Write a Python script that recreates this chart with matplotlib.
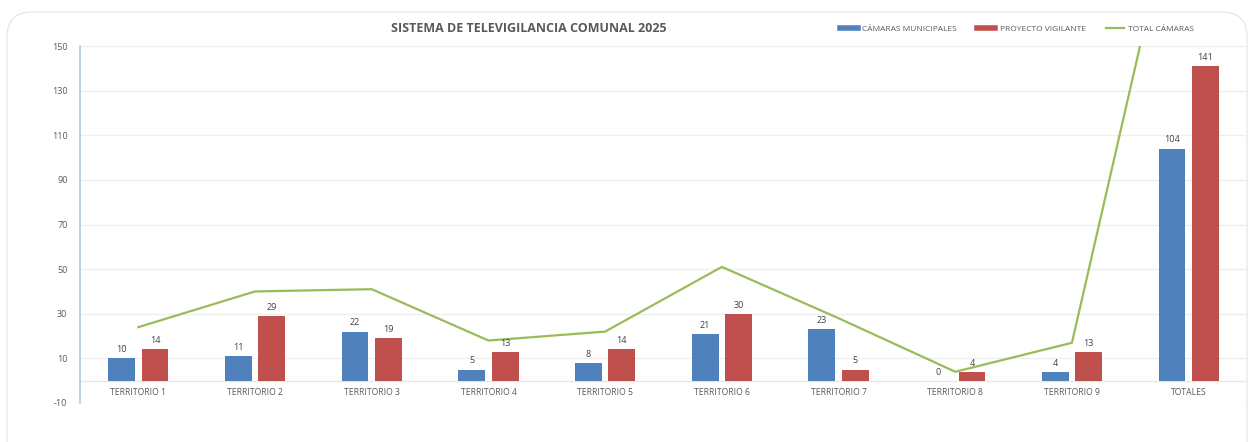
import matplotlib
matplotlib.use("Agg")
import matplotlib.pyplot as plt
from matplotlib.patches import FancyBboxPatch
from matplotlib.lines import Line2D
import numpy as np

categories = ["TERRITORIO 1", "TERRITORIO 2", "TERRITORIO 3", "TERRITORIO 4", "TERRITORIO 5",
              "TERRITORIO 6", "TERRITORIO 7", "TERRITORIO 8", "TERRITORIO 9", "TOTALES"]
camaras_municipales = [10, 11, 22, 5, 8, 21, 23, 0, 4, 104]
proyecto_vigilante = [14, 29, 19, 13, 14, 30, 5, 4, 13, 141]
total_camaras = [24, 40, 41, 18, 22, 51, 28, 4, 17, 245]
yticks = [-10, 10, 30, 50, 70, 90, 110, 130, 150]

plt.rcParams['font.family'] = ['Open Sans', 'DejaVu Sans']

BLUE = "#4F81BD"
RED = "#C0504D"
GREEN = "#9BBB59"
TXT = "#595959"

W, H = 1251, 442
fig = plt.figure(figsize=(W / 100, H / 100), dpi=100)

# chart frame (bottom edge extends below the figure)
frame = FancyBboxPatch((7 / W, -0.1), (W - 11) / W, (H - 12) / H + 0.1,
                       boxstyle="round,pad=0,rounding_size=0.02",
                       transform=fig.transFigure, facecolor="white",
                       edgecolor="#E3E3E3", linewidth=0.8, zorder=-5,
                       mutation_aspect=W / H)
fig.patches.append(frame)

ax = fig.add_axes([80 / W, 39 / H, (1247 - 80) / W, (403 - 46) / H])
ax.set_zorder(2)
ax.set_facecolor("none")
x = np.arange(len(categories))
bw = 0.23
off = 0.143
b1 = ax.bar(x - off, camaras_municipales, bw, color=BLUE, zorder=3)
b2 = ax.bar(x + off, proyecto_vigilante, bw, color=RED, zorder=3)
ax.plot(x, total_camaras, color=GREEN, lw=1.6, zorder=4)

for rects, vals in ((b1, camaras_municipales), (b2, proyecto_vigilante)):
    for r, v in zip(rects, vals):
        ax.annotate(str(v), (r.get_x() + r.get_width() / 2, v), xytext=(0, 3),
                    textcoords="offset points", ha="center", va="bottom",
                    fontsize=6.5, color="#404040", zorder=5)

ax.set_xlim(-0.5, len(categories) - 0.5)
ax.set_ylim(-10, 150)
ax.set_yticks(yticks)
ax.set_yticklabels([str(t) for t in yticks], fontsize=6.5, color=TXT)
ax.yaxis.grid(True, color="#EEEEEE", lw=0.9, zorder=0)
ax.axhline(0, color="#E6E6E6", lw=1.0, zorder=1)
ax.tick_params(axis="y", length=0, pad=9)
ax.set_xticks(x)
ax.set_xticklabels([])
ax.tick_params(axis="x", length=0)
for xi, c in zip(x, categories):
    ax.text(xi, -3.2, c, ha="center", va="top", fontsize=6.2, color=TXT)

for s in ["top", "right", "bottom"]:
    ax.spines[s].set_visible(False)
ax.spines["left"].set_color("#B4C7E7")
ax.spines["left"].set_linewidth(1.2)

fig.text(529 / W, 1 - 28 / H, "SISTEMA DE TELEVIGILANCIA COMUNAL 2025",
         ha="center", va="center", fontsize=9, fontweight="bold", color=TXT)

handles = [Line2D([], [], color=BLUE, lw=4),
           Line2D([], [], color=RED, lw=4),
           Line2D([], [], color=GREEN, lw=1.6)]
labels = ["CÁMARAS MUNICIPALES", "PROYECTO VIGILANTE", "TOTAL CÁMARAS"]
fig.legend(handles, labels, loc="center", bbox_to_anchor=(1017 / W, 1 - 29 / H),
           ncol=3, frameon=False, fontsize=6, handlelength=2.2, handletextpad=0.5,
           columnspacing=2.4, labelcolor=TXT)

fig.savefig("out.png", dpi=100)
